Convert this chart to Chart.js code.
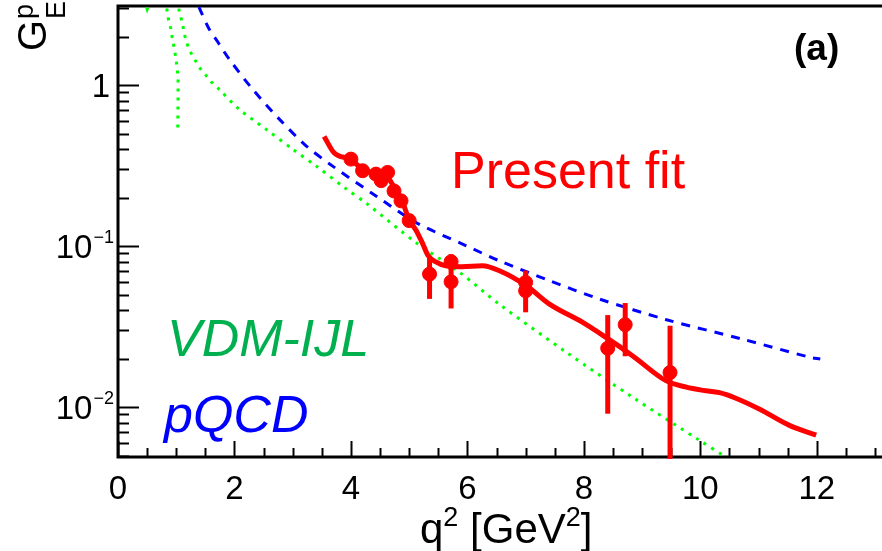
<!DOCTYPE html>
<html>
<head>
<meta charset="utf-8">
<script src="https://cdn.jsdelivr.net/npm/chart.js@4/dist/chart.umd.min.js"></script>
<style>
  html, body { margin: 0; padding: 0; background: #fff; }
  #wrap { width: 882px; height: 551px; }
</style>
</head>
<body>
<div id="wrap"><canvas id="gepChart" width="882" height="551"></canvas></div>
<script>
// measured points (q^2, G_E^p, error)
const dataX = [4.0, 4.2, 4.43, 4.52, 4.63, 4.74, 4.86, 5.0, 5.35, 5.72, 5.72, 7.0, 7.0, 8.41, 8.71, 9.48];
const dataY = [0.347, 0.294, 0.280, 0.255, 0.287, 0.220, 0.191, 0.144, 0.067, 0.080, 0.060, 0.0595, 0.0528, 0.0232, 0.0325, 0.0164];
const dataErr = [0.012, 0.012, 0.012, 0.012, 0.012, 0.012, 0.010, 0.010, 0.020, 0.009, 0.019, 0.011, 0.014, 0.0141, 0.0118, 0.0156];

// present fit curve
const fitX = [3.54, 3.71, 4.0, 4.2, 4.43, 4.55, 4.65, 4.76, 4.88, 5.0, 5.12, 5.23, 5.32, 5.45, 5.63, 5.9, 6.26, 6.55, 7.01, 7.41, 7.98, 8.38, 8.84, 9.41, 9.76, 10.05, 10.33, 10.6, 11.02, 11.53, 11.99];
const fitY = [0.48, 0.38, 0.345, 0.30, 0.28, 0.27, 0.262, 0.225, 0.19, 0.146, 0.125, 0.104, 0.088, 0.08, 0.0755, 0.0745, 0.0755, 0.0703, 0.0568, 0.0436, 0.0336, 0.0271, 0.0208, 0.0146, 0.0133, 0.0127, 0.0123, 0.0114, 0.0097, 0.0077, 0.0067];

// pQCD (blue dashed)
const pqcdX = [1.39, 1.56, 1.72, 1.91, 2.31, 2.77, 3.23, 3.68, 4.43, 5.12, 5.98, 6.55, 7.41, 8.27, 9.42, 10.73, 11.88, 12.06];
const pqcdY = [3.05, 2.25, 1.84, 1.45, 0.944, 0.615, 0.42, 0.315, 0.205, 0.140, 0.1005, 0.081, 0.061, 0.0469, 0.0349, 0.0264, 0.0204, 0.0199];

// VDM-IJL (green dotted), two branches around the pole
const vdm1X = [0.44, 0.5, 0.56, 0.7, 0.82, 0.837, 0.865, 0.906, 0.933, 0.963, 0.992, 1.019, 1.031, 1.031, 1.026];
const vdm1Y = [3.4, 2.96, 3.4, null, 3.4, 2.99, 2.57, 2.25, 1.95, 1.71, 1.49, 1.26, 1.09, 0.819, 0.546];
const vdm2X = [1.04, 1.05, 1.105, 1.135, 1.18, 1.24, 1.32, 1.41, 1.51, 1.61, 1.72, 2.08, 2.54, 3.0, 3.4, 3.91, 4.26, 5.12, 5.86, 6.55, 7.70, 8.84, 9.99, 10.39, 10.6];
const vdm2Y = [3.4, 2.9, 2.43, 2.12, 1.84, 1.62, 1.44, 1.27, 1.15, 1.04, 0.954, 0.709, 0.533, 0.40, 0.315, 0.228, 0.185, 0.105, 0.069, 0.0435, 0.0219, 0.0115, 0.0062, 0.005, 0.0043];

// axis ticks
const xMajorTicks = [0, 2, 4, 6, 8, 10, 12];
const xMinorStep = 0.5;
const yMajorTicks = [0.01, 0.1, 1];
const yTickLabels = [["10", "\u22122"], ["10", "\u22121"], ["1", ""]];

const xMin = 0, xMax = 13.12;
const yMin = 0.0049, yMax = 3.1;

function pts(xs, ys) {
    return xs.map((x, i) => ({ x: x, y: ys[i] }));
}

// frame + inward ticks, ROOT style
const framePlugin = {
    id: "frame",
    beforeDatasetsDraw(chart) {
        const ctx = chart.ctx;
        const a = chart.chartArea;
        const xs = chart.scales.x, ys = chart.scales.y;
        ctx.save();
        ctx.strokeStyle = "#000";
        ctx.lineWidth = 2;
        // x ticks
        for (let v = xMin; v <= xMax + 1e-9; v += xMinorStep) {
            const px = Math.round(xs.getPixelForValue(v)) + 0.5;
            const major = xMajorTicks.some(t => Math.abs(t - v) < 1e-6);
            const len = major ? 16 : 9;
            ctx.beginPath();
            ctx.moveTo(px, a.bottom);
            ctx.lineTo(px, a.bottom - len);
            ctx.stroke();
        }
        // y ticks (log)
        for (let e = -3; e <= 0; e++) {
            for (let m = 1; m <= 9; m++) {
                const v = m * Math.pow(10, e);
                if (v < yMin || v > yMax) continue;
                const py = Math.round(ys.getPixelForValue(v)) + 0.5;
                const len = m === 1 ? 21 : 11;
                ctx.beginPath();
                ctx.moveTo(a.left, py);
                ctx.lineTo(a.left + len, py);
                ctx.stroke();
            }
        }
        ctx.lineWidth = 3;
        ctx.beginPath();
        ctx.moveTo(a.right + 2, a.top);
        ctx.lineTo(a.left, a.top);
        ctx.lineTo(a.left, a.bottom);
        ctx.lineTo(a.right + 2, a.bottom);
        ctx.stroke();
        ctx.restore();
    },
    afterDatasetsDraw(chart) {
        // error bars
        const ctx = chart.ctx;
        const a = chart.chartArea;
        const xs = chart.scales.x, ys = chart.scales.y;
        ctx.save();
        ctx.beginPath();
        ctx.rect(a.left, a.top, a.right - a.left, a.bottom - a.top + 2);
        ctx.clip();
        ctx.strokeStyle = "#ff0000";
        ctx.lineWidth = 5;
        dataX.forEach((x, i) => {
            const px = xs.getPixelForValue(x);
            const lo = Math.max(dataY[i] - dataErr[i], yMin * 0.5);
            const hi = dataY[i] + dataErr[i];
            ctx.beginPath();
            ctx.moveTo(px, ys.getPixelForValue(hi));
            ctx.lineTo(px, ys.getPixelForValue(lo));
            ctx.stroke();
        });
        ctx.restore();
    },
    afterDraw(chart) {
        const ctx = chart.ctx;
        const xs = chart.scales.x, ys = chart.scales.y;
        ctx.save();
        ctx.fillStyle = "#000";
        // x labels
        ctx.font = "33px 'Liberation Sans', Arial, sans-serif";
        ctx.textAlign = "center";
        ctx.textBaseline = "alphabetic";
        xMajorTicks.forEach(v => {
            ctx.fillText(String(v), xs.getPixelForValue(v), 499);
        });
        // y labels
        yMajorTicks.forEach((v, i) => {
            const py = ys.getPixelForValue(v);
            const base = yTickLabels[i][0], sup = yTickLabels[i][1];
            ctx.textAlign = "right";
            if (sup) {
                ctx.font = "18px 'Liberation Sans', Arial, sans-serif";
                const sw = ctx.measureText(sup).width;
                ctx.fillText(sup, 114, py - 3);
                ctx.font = "33px 'Liberation Sans', Arial, sans-serif";
                ctx.fillText(base, 114 - sw - 1, py + 12);
            } else {
                ctx.font = "33px 'Liberation Sans', Arial, sans-serif";
                ctx.fillText(base, 110, py + 12);
            }
        });
        // x title
        ctx.textAlign = "left";
        let x0 = 420;
        const big = "42px 'Liberation Sans', Arial, sans-serif";
        const small = "27px 'Liberation Sans', Arial, sans-serif";
        const parts = [["q", big, 0], ["2", small, -17], [" [GeV", big, 0], ["2", small, -17], ["]", big, 0]];
        parts.forEach(p => {
            ctx.font = p[1];
            ctx.fillText(p[0], x0, 543 + p[2]);
            x0 += ctx.measureText(p[0]).width;
        });
        // y title: G_E^p rotated
        ctx.save();
        ctx.translate(46, 51);
        ctx.rotate(-Math.PI / 2);
        ctx.font = "40px 'Liberation Sans', Arial, sans-serif";
        ctx.fillText("G", 0, 0);
        const gw = ctx.measureText("G").width;
        ctx.font = "27px 'Liberation Sans', Arial, sans-serif";
        ctx.fillText("p", gw + 1, -13);
        ctx.fillText("E", gw + 1, 19);
        ctx.restore();
        // annotations
        ctx.fillStyle = "#ff0000";
        ctx.font = "52px 'Liberation Sans', Arial, sans-serif";
        ctx.fillText("Present fit", 451, 188);
        ctx.fillStyle = "#00b04f";
        ctx.font = "italic 52px 'Liberation Sans', Arial, sans-serif";
        ctx.fillText("VDM-IJL", 167, 356);
        ctx.fillStyle = "#0000ff";
        ctx.font = "italic 52px 'Liberation Sans', Arial, sans-serif";
        ctx.fillText("pQCD", 164, 432);
        ctx.fillStyle = "#000";
        ctx.font = "bold 37px 'Liberation Sans', Arial, sans-serif";
        ctx.fillText("(a)", 794, 60);
        ctx.restore();
    }
};

const ctx = document.getElementById("gepChart").getContext("2d");
new Chart(ctx, {
    type: "scatter",
    data: {
        datasets: [
            {
                // data points
                data: pts(dataX, dataY),
                backgroundColor: "#ff0000",
                borderColor: "#ff0000",
                pointRadius: 7,
                showLine: false,
                order: 0
            },
            {
                type: "line",
                data: pts(fitX, fitY),
                borderColor: "#ff0000",
                borderWidth: 5,
                pointRadius: 0,
                cubicInterpolationMode: "monotone",
                fill: false,
                clip: 0,
                order: 1
            },
            {
                type: "line",
                data: pts(pqcdX, pqcdY),
                borderColor: "#0000ff",
                borderWidth: 3,
                borderDash: [9, 8],
                pointRadius: 0,
                tension: 0.3,
                fill: false,
                clip: 0,
                order: 2
            },
            {
                type: "line",
                data: pts(vdm2X, vdm2Y),
                borderColor: "#00ff00",
                borderWidth: 3,
                borderDash: [3, 6],
                pointRadius: 0,
                tension: 0.3,
                fill: false,
                clip: 0,
                order: 3
            },
            {
                type: "line",
                data: pts(vdm1X, vdm1Y),
                borderColor: "#00ff00",
                borderWidth: 3,
                borderDash: [3, 6],
                pointRadius: 0,
                tension: 0,
                spanGaps: false,
                fill: false,
                clip: 0,
                order: 4
            }
        ]
    },
    options: {
        responsive: false,
        animation: false,
        devicePixelRatio: 1,
        layout: { autoPadding: false, padding: { left: 118, right: 0, top: 6, bottom: 94 } },
        plugins: {
            legend: { display: false },
            tooltip: { enabled: false }
        },
        scales: {
            x: { type: "linear", min: xMin, max: xMax, display: false },
            y: { type: "logarithmic", min: yMin, max: yMax, display: false }
        }
    },
    plugins: [framePlugin]
});
</script>
</body>
</html>
